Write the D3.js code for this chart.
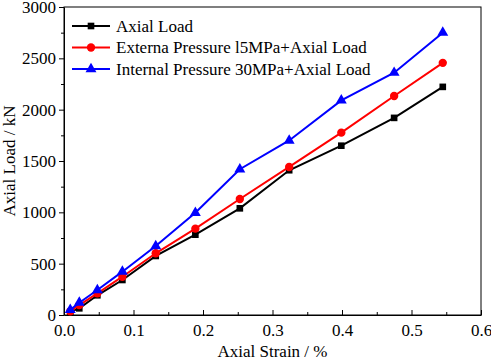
<!DOCTYPE html>
<html>
<head>
<meta charset="utf-8">
<script src="https://cdn.jsdelivr.net/npm/d3@7"></script>
<style>
  body { margin: 0; background: #fff; }
  svg text { font-family: "Liberation Serif", "Times New Roman", serif; }
</style>
</head>
<body>
<div id="chart"></div>
<script>
// data
const strain = [0.009, 0.022, 0.048, 0.084, 0.132, 0.189, 0.253, 0.324, 0.399, 0.475, 0.545];
const axialLoad = [30, 65, 192, 341, 575, 782, 1039, 1410, 1649, 1920, 2222];
const externalLoad = [35, 97, 211, 373, 601, 841, 1130, 1442, 1776, 2133, 2456];
const internalLoad = [50, 120, 243, 422, 672, 996, 1420, 1700, 2090, 2360, 2750];
const seriesNames = ["Axial Load", "Externa Pressure l5MPa+Axial Load", "Internal Pressure 30MPa+Axial Load"];
const seriesColors = ["#000000", "#ff0000", "#0000ff"];
const seriesSymbols = [d3.symbolSquare, d3.symbolCircle, d3.symbolTriangle];
const xTicks = [0, 0.1, 0.2, 0.3, 0.4, 0.5, 0.6];
const yTicks = [0, 500, 1000, 1500, 2000, 2500, 3000];

const W = 491, H = 361;
const margin = {top: 7, right: 10, bottom: 46, left: 64};
const width = 481 - margin.left, height = 315 - margin.top;
const FONT = "Liberation Serif, Times New Roman, serif";

const svg = d3.select("#chart").append("svg")
    .attr("width", W)
    .attr("height", H);
const g = svg.append("g")
    .attr("transform", `translate(${margin.left},${margin.top})`);

const x = d3.scaleLinear().domain([0, 0.6]).range([0, width]);
const y = d3.scaleLinear().domain([0, 3000]).range([height, 0]);

// frame
g.append("rect")
    .attr("width", width).attr("height", height)
    .attr("fill", "none").attr("stroke", "#000").attr("stroke-width", 1);

// x axis: ticks point inward
const xAxis = g.append("g")
    .attr("transform", `translate(0,${height})`)
    .call(d3.axisBottom(x).tickValues(xTicks).tickFormat(d3.format(".1f")).tickSizeInner(-5).tickSizeOuter(0).tickPadding(9));
g.append("g")
    .attr("transform", `translate(0,${height})`)
    .call(d3.axisBottom(x).tickValues(d3.range(0.05, 0.6, 0.1)).tickFormat("").tickSizeInner(-3).tickSizeOuter(0))
    .select(".domain").remove();

// y axis: ticks outward
const yAxis = g.append("g")
    .call(d3.axisLeft(y).tickValues(yTicks).tickFormat(d3.format("d")).tickSizeInner(5).tickSizeOuter(0).tickPadding(3));
g.append("g")
    .call(d3.axisLeft(y).tickValues(d3.range(250, 3000, 500)).tickFormat("").tickSizeInner(3).tickSizeOuter(0))
    .select(".domain").remove();

[xAxis, yAxis].forEach(ax => {
    ax.attr("font-family", FONT).attr("font-size", 17);
    ax.selectAll(".tick text").attr("fill", "#000");
});
xAxis.selectAll(".tick text").attr("dy", "0.71em");

// axis titles
svg.append("text")
    .attr("x", margin.left + width / 2)
    .attr("y", 357)
    .attr("text-anchor", "middle")
    .attr("font-size", 17)
    .text("Axial Strain / %");
svg.append("text")
    .attr("transform", `translate(15,${margin.top + height / 2}) rotate(-90)`)
    .attr("text-anchor", "middle")
    .attr("font-size", 17)
    .text("Axial Load / kN");

// series
const allSeries = [axialLoad, externalLoad, internalLoad];
const line = d3.line().x((d, i) => x(strain[i])).y(d => y(d));
const symbolSizes = [44, 55, 52];

allSeries.forEach((vals, k) => {
    g.append("path")
        .datum(vals)
        .attr("d", line)
        .attr("fill", "none")
        .attr("stroke", seriesColors[k])
        .attr("stroke-width", 2);
    g.selectAll(".pt" + k)
        .data(vals)
        .join("path")
        .attr("transform", (d, i) => `translate(${x(strain[i])},${y(d)})`)
        .attr("d", d3.symbol().type(seriesSymbols[k]).size(symbolSizes[k]))
        .attr("fill", seriesColors[k]);
});

// legend
const legend = svg.append("g").attr("transform", "translate(72,26)");
seriesNames.forEach((name, k) => {
    const row = legend.append("g").attr("transform", `translate(0,${k * 21.5})`);
    row.append("line")
        .attr("x1", 0).attr("x2", 38)
        .attr("stroke", seriesColors[k]).attr("stroke-width", 2);
    row.append("path")
        .attr("transform", "translate(19,0)")
        .attr("d", d3.symbol().type(seriesSymbols[k]).size(symbolSizes[k]))
        .attr("fill", seriesColors[k]);
    row.append("text")
        .attr("x", 44)
        .attr("dy", "0.35em")
        .attr("font-size", 17)
        .text(name);
});
</script>
</body>
</html>
